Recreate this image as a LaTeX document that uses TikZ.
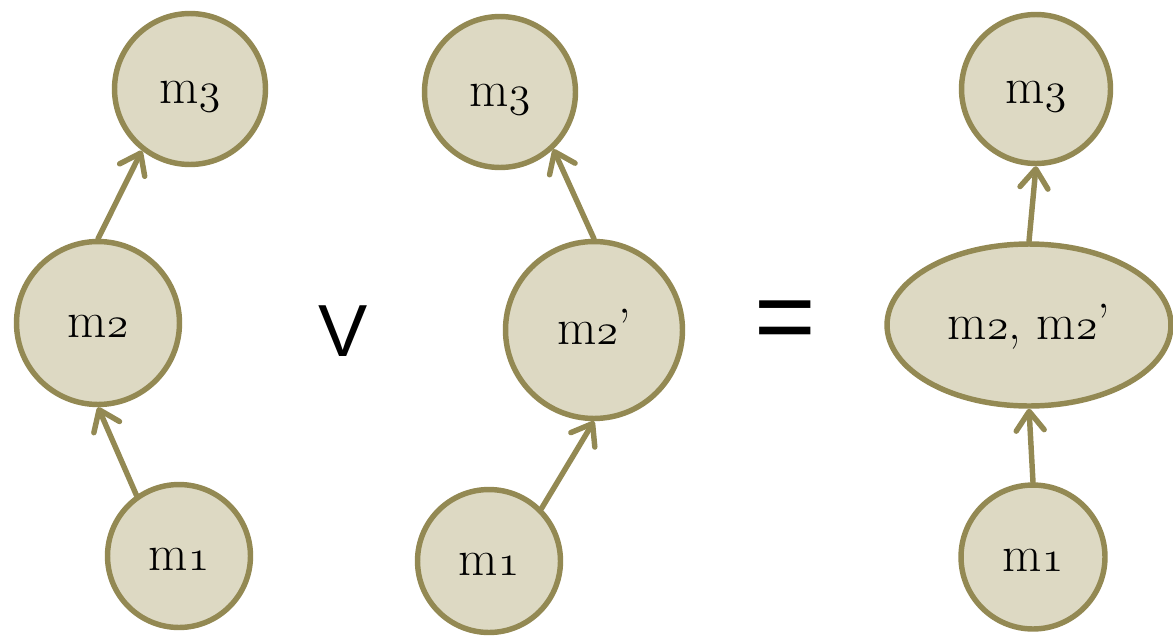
\documentclass[tikz,border=0pt]{standalone}
\usepackage{fontspec}
\newfontfamily\policeSigne{Liberation Sans}
\usepackage{tikz}
\usetikzlibrary{arrows.meta, shapes.geometric}
\definecolor{olivTrait}{HTML}{938953}
\definecolor{olivFond}{HTML}{DDD9C3}
%% Chiffres elzeviriens (le 3 descend sous la ligne)
\newcommand{\chiffre}[1]{{\usefont{OML}{lmm}{m}{it}#1}}
\tikzset{
  %% ── Bulles ───────────────────────────────────────────────────────────
  bulle/.style      = {circle, draw=olivTrait, fill=olivFond, line width=3.1pt,
                       text=black, inner sep=0pt, text height=16pt, text depth=0pt,
                       font=\fontsize{29}{32}\selectfont},
  bulleOvale/.style = {bulle, ellipse},
  %% ── Fleches ──────────────────────────────────────────────────────────
  fleche/.style     = {-{Straight Barb[length=3.8mm, width=5.6mm, round]},
                       draw=olivTrait, line width=3.1pt, line cap=round},
  %% ── Signes ───────────────────────────────────────────────────────────
  signe/.style      = {text=black, inner sep=0pt},
}

\begin{document}
\begin{tikzpicture}[x=0.02cm, y=-0.02cm]

%% Cadre : 1173 x 636, origine en haut a gauche.
\useasboundingbox (0,0) rectangle (1173,636);

%% Premiere chaine.
\node[bulle, minimum size=3.02cm] (m3g) at (190,89)  {m\chiffre{3}};
\node[bulle, minimum size=3.26cm] (m2g) at (98,323)  {m\chiffre{2}};
\node[bulle, minimum size=2.86cm] (m1g) at (179,556) {m\chiffre{1}};
\draw[fleche] (m1g.125) -- (m2g.south);
\draw[fleche] (m2g.north) -- (m3g.232);

%% Le ou.
\node[signe, font=\policeSigne\fontsize{42}{46}\selectfont] (ou) at (343,331) {V};

%% Seconde chaine.
\node[bulle, minimum size=3.02cm] (m3c) at (500,92)  {m\chiffre{3}};
\node[bulle, minimum size=3.54cm] (m2c) at (594,330) {m\chiffre{2}’};
\node[bulle, minimum size=2.86cm] (m1c) at (489,561) {m\chiffre{1}};
\draw[fleche] (m1c.45) -- (m2c.south);
\draw[fleche] (m2c.north) -- (m3c.-47);

%% Le egal.
\node[signe, font=\policeSigne\fontsize{60}{64}\selectfont] (egal) at (785,327) {=};

%% Chaine fusionnee.
\node[bulle, minimum size=2.98cm]  (m3d) at (1036,89)  {m\chiffre{3}};
\node[bulleOvale, minimum width=5.68cm, minimum height=3.24cm]
     (m2d) at (1029,325) {m\chiffre{2}, m\chiffre{2}’};
\node[bulle, minimum size=2.88cm]  (m1d) at (1033,557) {m\chiffre{1}};
\draw[fleche] (m1d.north) -- (m2d.south);
\draw[fleche] (m2d.north) -- (m3d.south);

\end{tikzpicture}
\end{document}
